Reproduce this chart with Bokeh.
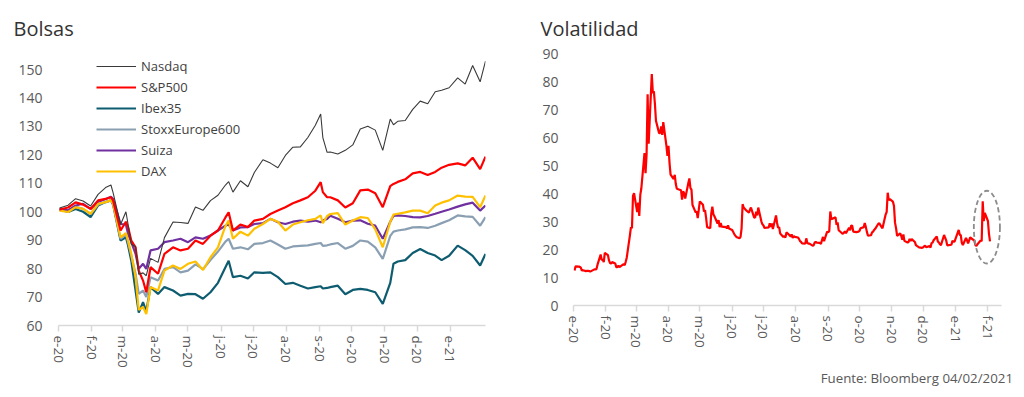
import pandas as pd
from bokeh.plotting import figure
from bokeh.layouts import row, column
from bokeh.models import FixedTicker, Range1d, Div
from bokeh.embed import file_html
from bokeh.resources import INLINE

FONT = "Open Sans"
TXT = "#595959"

# ---------------- data: Bolsas (base 100) ----------------
bolsas_dates = [
    "2020-01-02", "2020-01-10", "2020-01-17", "2020-01-24", "2020-01-31", "2020-02-07", "2020-02-14", "2020-02-19", "2020-02-21", "2020-02-28", "2020-03-04", "2020-03-06",
    "2020-03-09", "2020-03-13", "2020-03-16", "2020-03-20", "2020-03-23", "2020-03-27", "2020-04-03", "2020-04-09", "2020-04-17", "2020-04-24", "2020-05-01",
    "2020-05-08", "2020-05-15", "2020-05-22", "2020-05-29", "2020-06-05", "2020-06-08", "2020-06-12", "2020-06-19", "2020-06-26", "2020-07-02", "2020-07-10",
    "2020-07-17", "2020-07-24", "2020-07-31", "2020-08-07", "2020-08-14", "2020-08-21", "2020-08-28", "2020-09-02", "2020-09-04", "2020-09-08", "2020-09-11",
    "2020-09-18", "2020-09-25", "2020-10-02", "2020-10-09", "2020-10-16", "2020-10-23", "2020-10-30", "2020-11-06", "2020-11-09", "2020-11-13", "2020-11-20",
    "2020-11-27", "2020-12-04", "2020-12-11", "2020-12-18", "2020-12-24", "2020-12-31", "2021-01-08", "2021-01-15", "2021-01-22", "2021-01-29", "2021-02-03",
]
nasdaq = [
    101.3, 102.3, 104.6, 103.8, 102.0, 106.1, 108.5, 109.4, 106.7, 95.5, 100.0, 95.6,
    88.6, 87.8, 78.0, 78.5, 77.5, 83.6, 82.2, 90.9, 96.4, 96.2, 95.9,
    101.7, 100.5, 103.9, 105.8, 109.4, 110.6, 106.9, 110.9, 108.8, 113.8, 118.3,
    117.1, 115.5, 119.8, 122.7, 122.8, 126.1, 130.4, 134.4, 126.1, 120.9, 121.0,
    120.3, 121.6, 123.5, 129.1, 130.1, 128.7, 121.6, 132.6, 130.6, 131.8, 132.1,
    136.0, 138.9, 138.0, 142.2, 142.7, 143.6, 147.1, 144.9, 151.4, 145.7, 153.0,
]
sp500 = [
    100.8, 101.5, 103.3, 102.5, 101.0, 104.0, 104.5, 105.1, 104.0, 93.4, 96.5, 94.6,
    89.9, 87.5, 79.3, 75.8, 71.7, 80.5, 78.2, 85.2, 87.5, 86.4, 87.0,
    89.9, 88.7, 91.6, 93.4, 98.0, 99.8, 93.4, 95.5, 94.6, 96.9, 97.5,
    99.2, 100.4, 101.6, 103.0, 104.0, 105.1, 107.4, 110.4, 106.9, 105.1, 105.1,
    104.0, 101.5, 103.0, 107.5, 107.8, 106.5, 101.6, 109.0, 109.8, 110.5, 111.4,
    113.5, 114.0, 112.9, 114.0, 115.5, 116.5, 117.0, 116.3, 119.0, 115.0, 119.4,
]
ibex35 = [
    100.8, 99.9, 101.0, 100.0, 98.1, 102.2, 103.4, 104.0, 102.5, 89.9, 91.0, 88.1,
    82.8, 72.3, 64.5, 68.2, 65.0, 73.5, 71.1, 73.5, 72.3, 70.5, 71.1,
    71.0, 69.4, 71.7, 75.0, 80.5, 82.8, 77.0, 77.5, 76.5, 78.7, 78.5,
    78.7, 77.0, 74.6, 75.0, 74.0, 73.0, 73.5, 73.8, 73.0, 73.2, 73.5,
    74.0, 71.0, 72.5, 72.9, 72.5, 71.7, 67.6, 75.0, 81.7, 82.5, 83.0,
    85.5, 86.9, 85.5, 84.6, 83.0, 84.5, 88.1, 86.5, 84.5, 81.1, 85.2,
]
stoxx600 = [
    100.6, 100.5, 101.7, 101.0, 99.2, 102.5, 103.4, 104.0, 103.0, 90.5, 92.0, 89.3,
    84.6, 78.2, 71.1, 72.3, 70.0, 77.0, 75.8, 79.9, 80.5, 78.7, 79.3,
    81.5, 79.8, 83.0, 86.0, 89.5, 90.5, 87.0, 87.5, 86.8, 88.7, 89.0,
    89.9, 88.5, 87.0, 87.8, 88.0, 88.2, 88.7, 89.0, 88.0, 88.2, 88.5,
    89.0, 87.0, 88.0, 89.9, 89.5, 87.5, 83.4, 91.5, 93.0, 93.4, 93.8,
    94.5, 94.6, 94.3, 95.1, 96.0, 97.0, 98.7, 98.4, 98.2, 95.1, 98.1,
]
suiza = [
    100.9, 100.5, 102.2, 102.8, 101.0, 103.4, 104.5, 105.3, 104.5, 95.7, 95.5, 92.2,
    89.3, 85.2, 79.9, 81.7, 79.9, 86.4, 87.0, 89.3, 89.9, 90.5, 89.3,
    91.0, 90.5, 91.6, 93.4, 95.1, 95.5, 93.4, 94.5, 94.6, 95.7, 96.0,
    97.5, 96.3, 95.7, 96.5, 96.9, 96.5, 96.9, 96.3, 96.9, 97.5, 98.6,
    97.5, 96.3, 96.9, 97.0, 95.8, 95.1, 90.5, 96.5, 98.5, 98.7, 98.5,
    98.1, 98.0, 98.5, 99.3, 100.0, 100.8, 101.8, 102.6, 103.2, 100.4, 102.2,
]
dax = [
    100.4, 99.9, 101.6, 101.0, 99.3, 102.8, 103.4, 104.0, 102.8, 91.0, 92.5, 89.9,
    85.2, 77.0, 65.5, 66.5, 64.0, 73.5, 72.3, 79.3, 81.1, 79.9, 81.7,
    82.5, 79.5, 84.0, 87.5, 95.0, 96.9, 90.5, 93.0, 91.6, 94.0, 95.7,
    97.5, 96.5, 93.4, 95.5, 96.3, 97.0, 97.5, 98.7, 96.0, 98.5, 99.2,
    99.5, 95.5, 96.9, 98.1, 97.8, 93.8, 87.5, 96.5, 99.0, 99.3, 99.8,
    100.4, 100.4, 99.5, 102.2, 103.2, 104.0, 105.7, 105.3, 105.2, 101.6, 105.7,
]
bolsas_names = ["Nasdaq", "S&P500", "Ibex35", "StoxxEurope600", "Suiza", "DAX"]

# ---------------- data: Volatilidad (daily) ----------------
vix_holidays = ["2020-01-20", "2020-02-17", "2020-04-10", "2020-05-25", "2020-07-03",
                "2020-09-07", "2020-11-26", "2020-12-25", "2021-01-01", "2021-01-18"]
vix = [
    # Jan 2020
    12.5, 14.0, 13.9, 13.8, 13.5, 12.5, 12.6, 12.3, 12.4, 12.4, 12.3, 12.1, 12.9, 12.9, 13.0, 14.6, 18.2, 16.3, 16.4, 15.5, 18.8,
    # Feb 2020
    18.0, 16.1, 15.2, 15.0, 15.5, 15.0, 13.7, 13.7, 14.2, 13.7, 14.8, 14.4, 15.6, 17.1, 25.0, 27.9, 27.6, 39.2, 40.1,
    # Mar 2020
    33.4, 36.8, 32.0, 39.6, 41.9, 54.5, 47.3, 53.9, 75.5, 57.8, 82.7, 75.9, 76.5, 72.0, 66.0, 61.6, 61.7, 64.0, 61.0, 65.5, 57.1, 53.5,
    # Apr 2020
    57.1, 50.9, 46.8, 45.2, 46.7, 43.4, 41.7, 41.2, 37.8, 40.8, 40.1, 38.2, 43.8, 45.4, 42.0, 41.4, 35.9, 33.3, 33.6, 31.2, 34.2,
    # May 2020
    37.2, 36.0, 33.6, 34.1, 31.4, 28.0, 27.6, 33.0, 35.3, 32.6, 31.9, 29.3, 30.5, 28.0, 29.5, 28.2, 28.0, 27.6, 28.6, 27.5,
    # Jun 2020
    27.0, 26.3, 25.5, 25.0, 24.5, 24.0, 24.5, 27.5, 36.2, 35.0, 33.8, 33.5, 33.2, 34.2, 35.0, 31.5, 31.4, 33.5, 32.2, 35.0, 30.0, 29.0,
    # Jul 2020
    28.6, 27.7, 27.9, 29.4, 28.1, 29.3, 27.3, 32.2, 29.5, 27.8, 28.0, 25.7, 24.5, 24.8, 24.3, 26.1, 25.8, 24.7, 25.4, 24.1, 24.8, 24.5,
    # Aug 2020
    24.3, 23.8, 23.0, 22.7, 22.2, 22.1, 24.0, 22.3, 22.1, 22.1, 21.4, 21.5, 22.5, 22.7, 22.5, 22.4, 22.0, 23.3, 24.5, 23.0, 26.4,
    # Sep 2020
    26.1, 26.6, 33.6, 30.8, 31.5, 28.8, 29.7, 26.9, 25.9, 25.6, 26.0, 26.5, 25.8, 27.8, 26.9, 28.6, 28.5, 26.4, 26.2, 26.3, 26.4,
    # Oct 2020
    26.7, 27.6, 28.0, 29.5, 28.1, 26.4, 25.0, 25.1, 26.1, 26.4, 27.0, 27.4, 29.2, 29.4, 28.7, 28.1, 27.6, 32.5, 33.4, 40.3, 37.6, 38.0,
    # Nov 2020
    37.1, 35.6, 29.6, 27.6, 24.9, 25.8, 24.8, 23.5, 25.4, 23.1, 22.5, 22.7, 23.8, 23.1, 23.7, 22.7, 21.6, 21.3, 20.8, 20.6,
    # Dec 2020
    20.8, 21.2, 21.3, 20.8, 21.3, 20.7, 22.3, 22.5, 23.3, 24.7, 22.9, 22.5, 21.9, 21.6, 25.2, 24.2, 23.3, 21.5, 21.7, 23.1, 22.8, 22.8,
    # Jan 2021
    27.0, 25.3, 25.1, 22.4, 21.6, 24.1, 23.3, 22.2, 23.3, 24.3, 23.2, 21.6, 21.3, 21.9, 23.2, 23.0, 37.2, 30.2, 33.1,
    # Feb 2021
    30.2, 25.6, 22.9,
]

month_ticks = ["2020-01-01", "2020-02-01", "2020-03-01", "2020-04-01", "2020-05-01", "2020-06-01", "2020-07-01",
               "2020-08-01", "2020-09-01", "2020-10-01", "2020-11-01", "2020-12-01", "2021-01-01", "2021-02-01"]
month_labels = ["e-20", "f-20", "m-20", "a-20", "m-20", "j-20", "j-20", "a-20", "s-20", "o-20", "n-20", "d-20", "e-21", "f-21"]

colors = ["#3A3A3A", "#FF0000", "#0D5C70", "#8A9FB2", "#7030A0", "#FFC000"]
widths = [1.1, 2.2, 2.2, 2.2, 2.2, 2.2]


def ms(d):
    return int(pd.Timestamp(d).value // 10**6)


def style(p, n_ticks, y_ticks, y_standoff):
    tick_ms = [ms(d) for d in month_ticks[:n_ticks]]
    p.xaxis.ticker = FixedTicker(ticks=tick_ms)
    p.xaxis.major_label_overrides = {t: l for t, l in zip(tick_ms, month_labels[:n_ticks])}
    p.xaxis.major_label_orientation = "vertical"
    p.xaxis.axis_line_color = "#D9D9D9"
    p.xaxis.axis_line_width = 1.5
    p.xaxis.major_tick_line_color = "#D9D9D9"
    p.xaxis.major_tick_line_width = 1.5
    p.xaxis.major_tick_out = 6
    p.xaxis.major_tick_in = 0
    p.xaxis.minor_tick_line_color = None
    p.xaxis.major_label_standoff = 4
    p.xaxis.major_label_text_font_size = "13.5px"
    p.yaxis.ticker = FixedTicker(ticks=y_ticks)
    p.yaxis.axis_line_color = None
    p.yaxis.major_tick_line_color = None
    p.yaxis.minor_tick_line_color = None
    p.yaxis.major_label_standoff = y_standoff
    p.yaxis.major_label_text_font_size = "14px"
    for ax in (p.xaxis, p.yaxis):
        ax.major_label_text_font = FONT
        ax.major_label_text_color = TXT
    p.xgrid.visible = False
    p.ygrid.visible = False
    p.outline_line_color = None
    p.title.text_font = FONT
    p.title.text_font_size = "20px"
    p.title.text_font_style = "normal"
    p.title.text_color = "#333333"
    p.title.align = "left"


TOP, BOTTOM = 52, 63

# ---------------- left figure ----------------
p1 = figure(width=512, height=325 + BOTTOM, x_axis_type="datetime", output_backend="svg", toolbar_location=None,
            x_range=Range1d(pd.Timestamp("2020-01-01"), pd.Timestamp("2021-02-03")),
            y_range=Range1d(60, 156.0), title="Bolsas",
            min_border_left=58, min_border_right=27, min_border_top=TOP, min_border_bottom=BOTTOM)
style(p1, 13, list(range(60, 151, 10)), 10)
p1.title.offset = -45
p1.title.standoff = 22

bx = pd.to_datetime(bolsas_dates)
series = [nasdaq, sp500, ibex35, stoxx600, suiza, dax]
order = [2, 3, 4, 5, 1, 0]
for i in order:
    p1.line(bx, series[i], line_color=colors[i], line_width=widths[i], legend_label=bolsas_names[i])

leg = p1.legend[0]
leg.items = sorted(leg.items, key=lambda it: bolsas_names.index(it.label.value))
leg.location = (38, 144)
leg.background_fill_alpha = 0
leg.border_line_color = None
leg.padding = 0
leg.margin = 0
leg.spacing = 1
leg.glyph_width = 40
leg.glyph_height = 20
leg.label_height = 20
leg.label_standoff = 5
leg.label_text_font = FONT
leg.label_text_font_size = "13px"
leg.label_text_color = "#404040"

# ---------------- right figure ----------------
vdates = pd.bdate_range("2020-01-02", "2021-02-03")
vdates = vdates[~vdates.isin(pd.to_datetime(vix_holidays))]
n = min(len(vdates), len(vix))

p2 = figure(width=504, height=305 + BOTTOM, x_axis_type="datetime", output_backend="svg", toolbar_location=None,
            x_range=Range1d(pd.Timestamp("2020-01-01"), pd.Timestamp("2021-02-14")),
            y_range=Range1d(0, 90.05), title="Volatilidad",
            min_border_left=61, min_border_right=15, min_border_top=TOP, min_border_bottom=BOTTOM)
style(p2, 14, list(range(0, 91, 10)), 9)
p2.title.offset = -33
p2.title.standoff = 24
p2.line(vdates[:n], vix[:n], line_color="#FF0000", line_width=2.2)
p2.ellipse(x=[pd.Timestamp("2021-01-31")], y=[28], width=25 * 86400000, height=26,
           fill_color=None, line_color="#8C8C8C", line_width=1.8, line_dash="5 3")

src = Div(text="Fuente: Bloomberg 04/02/2021", width=501, height=20,
          styles={"text-align": "right", "font-family": FONT, "font-size": "13.3px",
                  "color": TXT, "line-height": "20px", "margin": "0", "padding": "0"})

layout = row(p1, column(p2, src))
open("out.html", "w").write(file_html(layout, INLINE))
